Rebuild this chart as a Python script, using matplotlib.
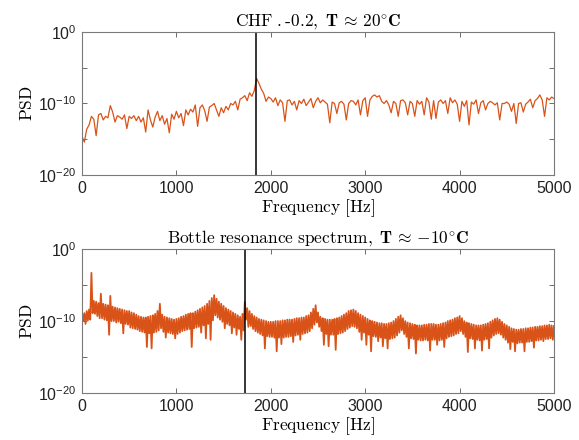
import matplotlib
matplotlib.use("Agg")
import matplotlib.pyplot as plt
import numpy as np

plt.rcParams['font.family'] = ['Liberation Sans', 'DejaVu Sans']
plt.rcParams['mathtext.fontset'] = 'cm'

# top spectrum (CHF .-0.2, 20 C): log10(PSD) every 25 Hz
df_top = 25.0
logpsd_top = [
    -14.6, -15.4, -13.6, -13.0, -11.8, -12.2, -14.5, -11.6,
    -11.4, -12.3, -11.8, -12.0, -10.3, -11.2, -12.6, -11.7,
    -11.9, -12.2, -11.6, -13.5, -11.8, -12.1, -11.7, -12.4,
    -11.8, -12.6, -12.0, -14.0, -10.9, -12.3, -13.3, -11.9,
    -11.1, -12.4, -11.7, -12.9, -12.1, -14.1, -11.5, -12.2,
    -11.1, -12.0, -11.4, -13.1, -10.9, -11.6, -10.8, -11.2,
    -10.2, -13.2, -10.6, -10.2, -11.0, -12.5, -10.5, -10.3,
    -10.0, -10.9, -11.8, -10.6, -11.3, -10.4, -10.9, -10.0,
    -10.2, -9.7, -10.9, -9.4, -9.2, -8.9, -9.6, -8.5,
    -9.0, -8.2, -6.5, -7.2, -8.0, -8.6, -9.7, -9.1,
    -9.3, -9.8, -9.2, -10.3, -9.5, -9.9, -12.5, -9.6,
    -9.5, -10.2, -9.7, -10.9, -9.6, -10.0, -9.4, -10.3,
    -9.8, -9.3, -10.6, -9.7, -9.2, -9.9, -9.5, -9.8,
    -10.1, -12.7, -9.8, -10.0, -11.4, -9.9, -9.7, -10.1,
    -12.3, -10.0, -9.6, -9.7, -10.2, -9.5, -11.6, -9.6,
    -9.2, -11.8, -9.5, -9.0, -8.8, -9.1, -8.9, -9.7,
    -10.0, -9.6, -10.2, -11.3, -9.7, -10.0, -11.8, -9.6,
    -9.5, -9.9, -11.6, -9.7, -10.0, -11.8, -9.6, -10.1,
    -9.7, -11.6, -9.2, -9.8, -12.2, -9.6, -12.1, -9.8,
    -9.5, -10.0, -9.6, -11.4, -9.2, -9.9, -9.5, -10.1,
    -12.5, -9.7, -10.4, -9.6, -13.0, -9.8, -10.1, -9.5,
    -11.4, -9.9, -9.6, -10.9, -10.0, -9.7, -9.9, -10.2,
    -9.9, -12.3, -10.0, -10.0, -9.8, -10.1, -11.1, -10.0,
    -12.8, -10.0, -9.9, -11.2, -10.1, -9.8, -9.4, -10.6,
    -9.6, -9.3, -8.8, -9.5, -11.8, -9.2, -9.5, -9.1,
    -9.3,
]

# bottom spectrum (bottle, -10 C): log10(PSD), high bins at 0,25,... and low bins at 12.5,37.5,...
df_bot = 12.5
logpsd_bot_hi = [
    -8.8, -8.9, -8.6, -8.4, -3.3, -7.2, -7.3, -7.5,
    -6.2, -7.6, -7.7, -7.8, -6.5, -8.0, -8.1, -8.2,
    -8.3, -8.4, -8.5, -8.6, -8.6, -8.8, -8.9, -9.1,
    -9.3, -9.4, -9.5, -9.5, -9.4, -9.3, -9.2, -9.0,
    -8.6, -7.6, -9.1, -9.4, -9.5, -9.6, -9.7, -9.8,
    -9.7, -9.6, -9.4, -9.3, -9.1, -9.0, -8.9, -8.9,
    -8.7, -8.5, -8.3, -8.1, -7.9, -7.6, -7.2, -6.8,
    -6.4, -6.9, -7.3, -7.6, -7.9, -8.2, -8.4, -8.6,
    -8.8, -9.0, -9.2, -9.4, -9.0, -7.3, -8.2, -8.6,
    -9.0, -9.3, -9.5, -9.7, -9.8, -9.9, -10.0, -10.1,
    -10.1, -10.1, -10.0, -10.0, -10.0, -9.9, -9.9, -9.8,
    -9.8, -9.8, -9.7, -9.6, -9.6, -9.5, -9.5, -9.3,
    -9.2, -8.8, -8.3, -7.8, -8.8, -9.4, -9.6, -9.7,
    -9.8, -9.8, -9.8, -9.7, -9.6, -9.5, -9.3, -9.1,
    -8.9, -8.6, -8.5, -8.4, -8.6, -8.9, -9.1, -9.3,
    -9.5, -9.7, -9.9, -10.0, -10.1, -10.2, -10.3, -10.3,
    -10.4, -10.4, -10.3, -10.2, -10.0, -9.7, -9.4, -9.2,
    -9.6, -10.0, -10.2, -10.3, -10.4, -10.5, -10.6, -10.6,
    -10.6, -10.5, -10.5, -10.4, -10.4, -10.4, -10.5, -10.5,
    -10.4, -10.3, -10.2, -10.0, -9.9, -9.8, -9.6, -9.5,
    -9.3, -9.6, -10.0, -10.2, -10.3, -10.4, -10.5, -10.6,
    -10.6, -10.6, -10.5, -10.4, -10.3, -10.1, -9.9, -9.7,
    -9.6, -9.8, -10.1, -10.4, -10.6, -10.8, -11.0, -11.1,
    -11.2, -11.2, -11.1, -11.1, -11.0, -11.0, -10.9, -10.9,
    -10.8, -10.8, -10.7, -10.7, -10.6, -10.6, -10.5, -10.6,
    -10.7,
]
logpsd_bot_lo = [
    -10.0, -10.4, -9.9, -9.8, -8.9, -9.0, -9.3, -9.6,
    -9.6, -9.8, -9.9, -11.9, -10.0, -10.0, -10.2, -10.1,
    -10.3, -11.7, -10.4, -10.5, -10.9, -11.0, -11.1, -11.2,
    -11.4, -11.5, -11.6, -13.6, -11.7, -13.8, -11.6, -11.5,
    -11.3, -11.0, -11.5, -12.3, -11.6, -11.7, -11.8, -12.4,
    -11.8, -11.6, -11.4, -11.3, -11.2, -11.1, -13.6, -11.0,
    -10.9, -10.8, -11.6, -10.6, -12.4, -10.4, -12.6, -9.9,
    -9.2, -9.5, -9.8, -10.1, -11.0, -10.4, -10.6, -11.7,
    -10.9, -11.9, -11.1, -12.6, -11.3, -9.8, -10.8, -10.7,
    -11.1, -11.4, -11.6, -11.8, -12.0, -13.8, -12.1, -12.2,
    -12.2, -12.3, -14.2, -12.3, -13.2, -12.3, -12.2, -12.2,
    -12.1, -12.9, -12.0, -11.9, -12.6, -11.8, -11.7, -11.6,
    -11.4, -11.0, -10.5, -10.2, -10.8, -11.4, -13.3, -11.8,
    -13.5, -11.9, -11.9, -14.0, -11.8, -11.7, -11.6, -11.4,
    -11.1, -10.9, -10.7, -10.8, -11.0, -11.5, -12.6, -11.6,
    -13.3, -11.9, -14.2, -12.1, -12.2, -12.8, -12.3, -13.5,
    -12.4, -13.8, -12.5, -12.4, -12.3, -12.0, -11.6, -11.3,
    -11.8, -12.2, -13.8, -12.4, -12.5, -14.5, -12.6, -12.7,
    -12.7, -12.6, -12.7, -14.1, -12.6, -12.6, -13.3, -12.7,
    -12.6, -13.6, -12.4, -12.2, -12.1, -12.0, -11.8, -11.7,
    -11.4, -11.8, -12.2, -14.3, -12.4, -12.5, -13.8, -12.6,
    -12.7, -14.1, -12.6, -12.5, -13.8, -12.3, -12.0, -11.8,
    -11.7, -11.9, -12.3, -12.6, -13.0, -13.9, -12.9, -14.2,
    -13.1, -13.0, -13.0, -14.2, -12.9, -12.9, -12.8, -13.7,
    -12.7, -12.7, -12.6, -12.8, -12.5, -12.5, -12.4, -12.6,
]

f_mark_top = 1845
f_mark_bot = 1730

line_col = '#D95319'

f_top = np.arange(len(logpsd_top)) * df_top
psd_top = 10.0 ** np.array(logpsd_top)

hi = np.array(logpsd_bot_hi)
lo = np.array(logpsd_bot_lo)
log_bot = np.empty(len(hi) + len(lo))
log_bot[0::2] = hi
log_bot[1::2] = lo
f_bot = np.arange(len(log_bot)) * df_bot
psd_bot = 10.0 ** log_bot

fig = plt.figure(figsize=(5.79, 4.40), dpi=100)
ax1 = fig.add_axes([0.1416, 0.6023, 0.8152, 0.325])
ax2 = fig.add_axes([0.1416, 0.1068, 0.8152, 0.327])

ax1.semilogy(f_top, psd_top, color=line_col, lw=0.9)
ax1.axvline(f_mark_top, color='k', lw=1.1)
ax1.set_title(r'$\mathrm{CHF\ .\text{-}0.2,\ }\mathbf{T}\,\approx\,\mathbf{20^{\circ}C}$',
              fontsize=12.5, pad=4)

ax2.semilogy(f_bot, psd_bot, color=line_col, lw=1.3)
ax2.axvline(f_mark_bot, color='k', lw=1.1)
ax2.set_title(r'$\mathrm{Bottle\ resonance\ spectrum,\ }\mathbf{T}\,\approx\,\mathbf{-10^{\circ}C}$',
              fontsize=12.5, pad=4)

for ax in (ax1, ax2):
    ax.set_xlim(0, 5000)
    ax.set_ylim(1e-20, 1)
    ax.set_xticks([0, 1000, 2000, 3000, 4000, 5000])
    ax.set_yticks([1e-20, 1e-15, 1e-10, 1e-5, 1])
    ax.set_yticklabels([r'$\mathdefault{10^{-20}}$', '', r'$\mathdefault{10^{-10}}$', '',
                        r'$\mathdefault{10^{0}}$'])
    ax.minorticks_off()
    ax.tick_params(direction='in', length=3.5, width=0.6, top=True, right=True,
                   labelsize=11.5, colors='#555555', labelcolor='#222222', pad=4)
    for s in ax.spines.values():
        s.set_color('#7a7a7a')
        s.set_linewidth(0.8)
    ax.set_xlabel(r'$\mathrm{Frequency\ [Hz]}$', fontsize=12.5, labelpad=1)
    ax.set_ylabel(r'$\mathrm{PSD}$', fontsize=12.5, labelpad=2)

fig.savefig('out.png', dpi=100)
